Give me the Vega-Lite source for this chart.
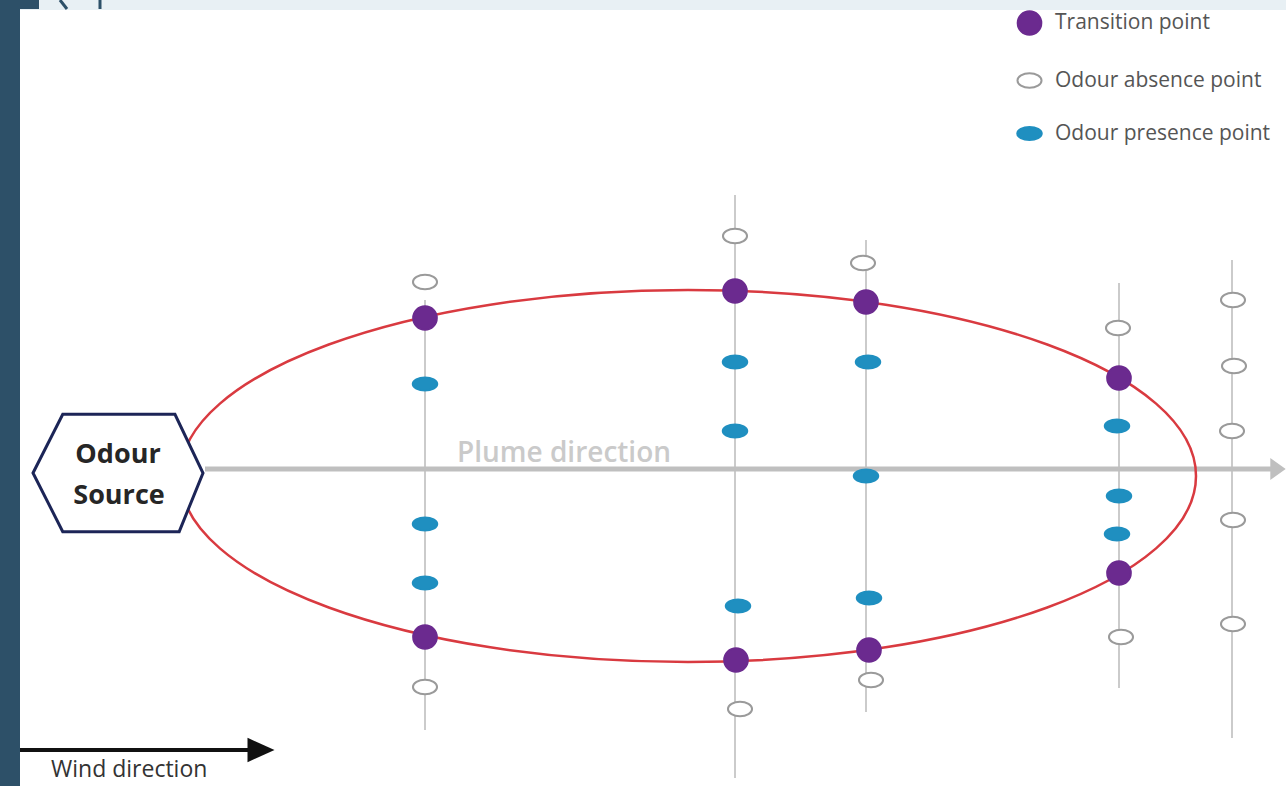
{
  "$schema": "https://vega.github.io/schema/vega-lite/v6.json",
  "width": 1286,
  "height": 786,
  "padding": 0,
  "autosize": {"type": "none"},
  "background": "white",
  "config": {"view": {"stroke": null}},
  "encoding": {
    "x": {"field": "x", "type": "quantitative", "scale": {"domain": [0, 1286], "nice": false, "zero": false}, "axis": null},
    "y": {"field": "y", "type": "quantitative", "scale": {"domain": [0, 786], "nice": false, "zero": false, "reverse": true}, "axis": null}
  },
  "layer": [
    {
      "data": {"values": [
        {"x": 0, "x2": 20, "y": 0, "y2": 786, "part": "frame"},
        {"x": 20, "x2": 1286, "y": 0, "y2": 10, "part": "strip"},
        {"x": 20, "x2": 39, "y": 0, "y2": 9, "part": "frame"}
      ]},
      "mark": {"type": "rect"},
      "encoding": {
        "x2": {"field": "x2"},
        "y2": {"field": "y2"},
        "color": {"field": "part", "type": "nominal", "scale": {"domain": ["frame", "strip"], "range": ["#2d5068", "#e8f0f4"]}, "legend": null}
      }
    },
    {
      "data": {"values": [
        {"x": 60, "x2": 67, "y": 0, "y2": 9, "part": "dark"},
        {"x": 100, "x2": 100, "y": 0, "y2": 9, "part": "dark"},
        {"x": 313, "x2": 307, "y": 0, "y2": 9, "part": "light"}
      ]},
      "mark": {"type": "rule", "strokeWidth": 3},
      "encoding": {
        "x2": {"field": "x2"},
        "y2": {"field": "y2"},
        "color": {"field": "part", "type": "nominal", "scale": {"domain": ["dark", "light"], "range": ["#2d4a63", "#c3d2db"]}, "legend": null}
      }
    },
    {
      "data": {"values": [
        {"x": 425, "y": 300, "y2": 730},
        {"x": 735, "y": 195, "y2": 778},
        {"x": 866, "y": 240, "y2": 712},
        {"x": 1119, "y": 283, "y2": 688},
        {"x": 1232, "y": 260, "y2": 738}
      ]},
      "mark": {"type": "rule", "color": "#cbcbcb", "strokeWidth": 2},
      "encoding": {"y2": {"field": "y2"}}
    },
    {
      "data": {"values": [{"x": 205, "x2": 1272, "y": 469}]},
      "mark": {"type": "rule", "color": "#bfbfbf", "strokeWidth": 5},
      "encoding": {"x2": {"field": "x2"}}
    },
    {
      "data": {"values": [{"x": 1278, "y": 469}]},
      "mark": {"type": "point", "filled": true, "color": "#bfbfbf", "opacity": 1, "size": 484, "shape": "M-0.7,-1 L0.7,0 L-0.7,1 Z"},
      "encoding": {}
    },
    {
      "data": {"values": [{"x": 688, "y": 476}]},
      "mark": {"type": "point", "filled": false, "stroke": "#d93a40", "strokeWidth": 2.5, "opacity": 1, "size": 1032256,
        "shape": "M-1,0 C-1,-0.2022 -0.5523,-0.366 0,-0.366 C0.5523,-0.366 1,-0.2022 1,0 C1,0.2022 0.5523,0.366 0,0.366 C-0.5523,0.366 -1,0.2022 -1,0 Z"},
      "encoding": {}
    },
    {
      "data": {"values": [{"x": 118, "y": 473}]},
      "mark": {"type": "point", "filled": true, "fill": "white", "stroke": "#1c2557", "strokeWidth": 3, "opacity": 1, "size": 28900,
        "shape": "M-1,0 L-0.65,-0.69 L0.67,-0.69 L1,0 L0.72,0.69 L-0.65,0.69 Z"},
      "encoding": {}
    },
    {
      "data": {"values": [
        {"x": 118, "y": 455, "label": "Odour"},
        {"x": 119, "y": 496, "label": "Source"}
      ]},
      "mark": {"type": "text", "align": "center", "baseline": "middle", "font": "Open Sans", "fontWeight": "bold", "fontSize": 27, "color": "#262626"},
      "encoding": {"text": {"field": "label"}}
    },
    {
      "data": {"values": [{"x": 457, "y": 462, "label": "Plume direction"}]},
      "mark": {"type": "text", "align": "left", "baseline": "alphabetic", "font": "Open Sans", "fontWeight": 600, "fontSize": 28, "color": "#cacaca"},
      "encoding": {"text": {"field": "label"}}
    },
    {
      "data": {"values": [
        {"x": 425, "y": 282, "type": "Odour absence point"},
        {"x": 425, "y": 318, "type": "Transition point"},
        {"x": 425, "y": 384, "type": "Odour presence point"},
        {"x": 425, "y": 524, "type": "Odour presence point"},
        {"x": 425, "y": 583, "type": "Odour presence point"},
        {"x": 425, "y": 637, "type": "Transition point"},
        {"x": 425, "y": 687, "type": "Odour absence point"},
        {"x": 735, "y": 236, "type": "Odour absence point"},
        {"x": 735, "y": 291, "type": "Transition point"},
        {"x": 735, "y": 362, "type": "Odour presence point"},
        {"x": 735, "y": 431, "type": "Odour presence point"},
        {"x": 738, "y": 606, "type": "Odour presence point"},
        {"x": 736, "y": 660, "type": "Transition point"},
        {"x": 740, "y": 709, "type": "Odour absence point"},
        {"x": 863, "y": 263, "type": "Odour absence point"},
        {"x": 866, "y": 302, "type": "Transition point"},
        {"x": 868, "y": 362, "type": "Odour presence point"},
        {"x": 866, "y": 476, "type": "Odour presence point"},
        {"x": 869, "y": 598, "type": "Odour presence point"},
        {"x": 869, "y": 650, "type": "Transition point"},
        {"x": 871, "y": 680, "type": "Odour absence point"},
        {"x": 1118, "y": 328, "type": "Odour absence point"},
        {"x": 1119, "y": 378, "type": "Transition point"},
        {"x": 1117, "y": 426, "type": "Odour presence point"},
        {"x": 1119, "y": 496, "type": "Odour presence point"},
        {"x": 1117, "y": 534, "type": "Odour presence point"},
        {"x": 1119, "y": 573, "type": "Transition point"},
        {"x": 1121, "y": 637, "type": "Odour absence point"},
        {"x": 1233, "y": 300, "type": "Odour absence point"},
        {"x": 1234, "y": 366, "type": "Odour absence point"},
        {"x": 1232, "y": 431, "type": "Odour absence point"},
        {"x": 1233, "y": 520, "type": "Odour absence point"},
        {"x": 1233, "y": 624, "type": "Odour absence point"}
      ]},
      "mark": {"type": "point", "filled": true, "opacity": 1, "strokeWidth": 2},
      "encoding": {
        "fill": {"field": "type", "type": "nominal",
          "scale": {"domain": ["Transition point", "Odour absence point", "Odour presence point"], "range": ["#6b2a8f", "#ffffff", "#1f8fc0"]},
          "legend": {"orient": "none", "legendX": 1016, "legendY": 10, "title": null, "padding": 0, "rowPadding": 28, "labelOffset": 12,
            "labelFont": "Open Sans", "labelFontSize": 21, "labelColor": "#555555", "labelLimit": 0, "symbolStrokeWidth": 2}},
        "stroke": {"field": "type", "type": "nominal",
          "scale": {"domain": ["Transition point", "Odour absence point", "Odour presence point"], "range": ["#6b2a8f", "#9a9a9a", "#1f8fc0"]}},
        "shape": {"field": "type", "type": "nominal",
          "scale": {"domain": ["Transition point", "Odour absence point", "Odour presence point"], "range": [
            "circle",
            "M-1,0 C-1,-0.331 -0.552,-0.6 0,-0.6 C0.552,-0.6 1,-0.331 1,0 C1,0.331 0.552,0.6 0,0.6 C-0.552,0.6 -1,0.331 -1,0 Z",
            "M-1,0 C-1,-0.298 -0.552,-0.54 0,-0.54 C0.552,-0.54 1,-0.298 1,0 C1,0.298 0.552,0.54 0,0.54 C-0.552,0.54 -1,0.298 -1,0 Z"
          ]}},
        "size": {"field": "type", "type": "nominal",
          "scale": {"domain": ["Transition point", "Odour absence point", "Odour presence point"], "range": [560, 600, 676]}}
      }
    },
    {
      "data": {"values": [{"x": 20, "x2": 252, "y": 750}]},
      "mark": {"type": "rule", "color": "#111111", "strokeWidth": 4},
      "encoding": {"x2": {"field": "x2"}}
    },
    {
      "data": {"values": [{"x": 261, "y": 750}]},
      "mark": {"type": "point", "filled": true, "color": "#111111", "opacity": 1, "size": 729, "shape": "M-1,-0.9 L1,0 L-1,0.9 Z"},
      "encoding": {}
    },
    {
      "data": {"values": [{"x": 51, "y": 777, "label": "Wind direction"}]},
      "mark": {"type": "text", "align": "left", "baseline": "alphabetic", "font": "Open Sans", "fontSize": 23, "color": "#333333"},
      "encoding": {"text": {"field": "label"}}
    }
  ]
}
